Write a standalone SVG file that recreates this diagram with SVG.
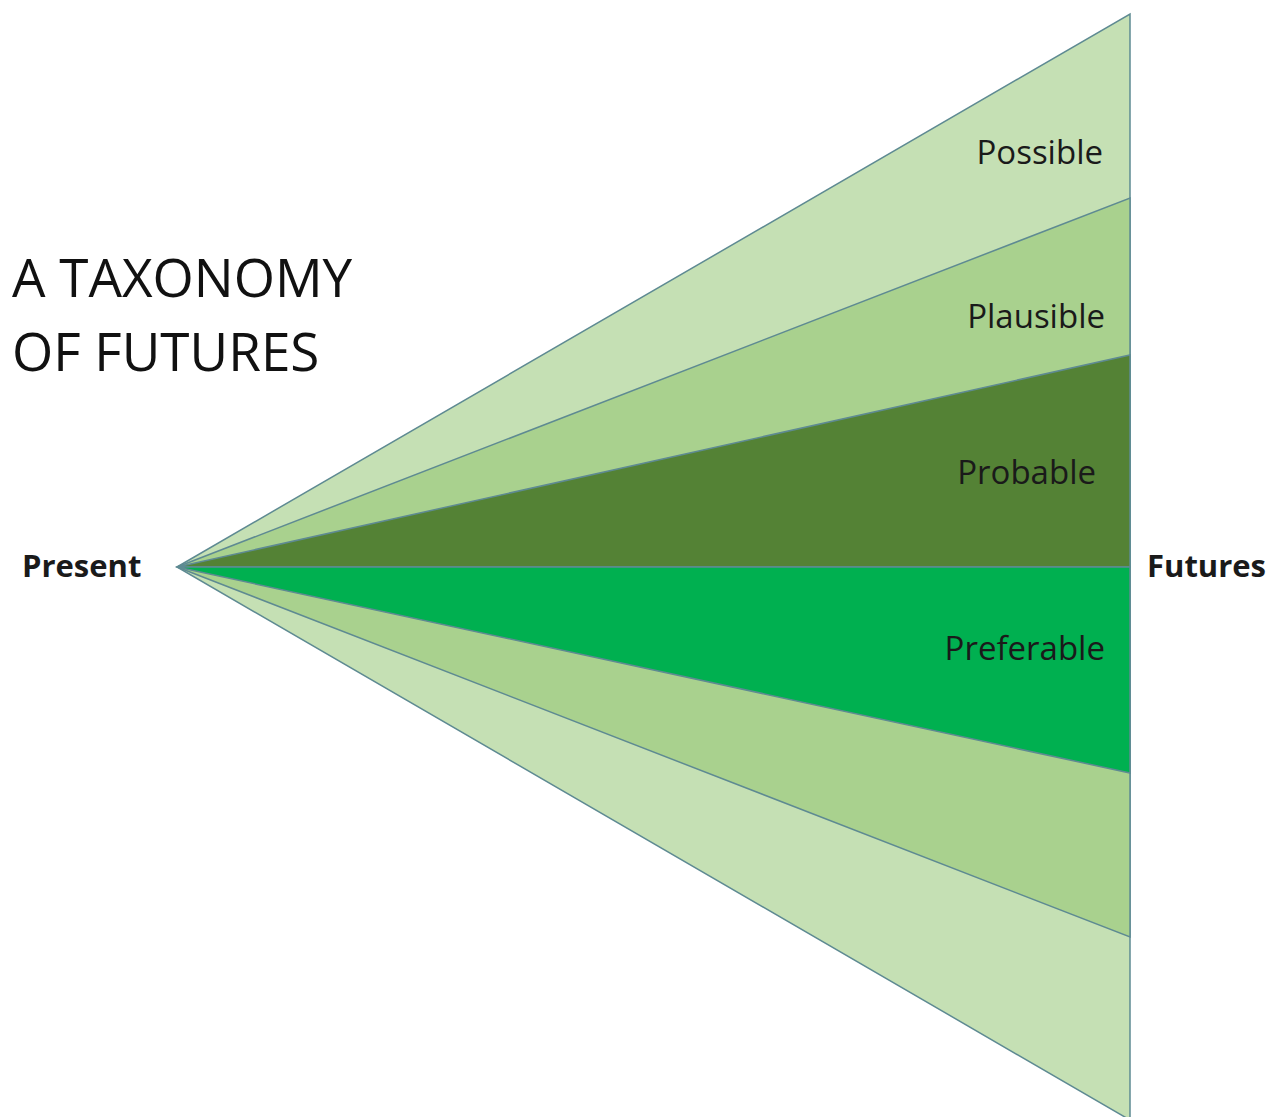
<svg xmlns="http://www.w3.org/2000/svg" width="1274" height="1117" viewBox="0 0 1274 1117">
<style>
.band{stroke:#5e8a92;stroke-width:1.5;stroke-linejoin:miter}
.lbl{font-family:"Open Sans","Liberation Sans",sans-serif;font-size:33px;fill:#1a1a1a;text-anchor:end}
.title{font-family:"Open Sans","Liberation Sans",sans-serif;font-size:53px;fill:#111}
.axis{font-family:"Open Sans","Liberation Sans",sans-serif;font-size:31px;font-weight:bold;fill:#1a1a1a}
</style>
<rect width="1274" height="1117" fill="#ffffff"/>
<g id="possible">
<polygon class="band" fill="#c5e0b4" points="177,567 1130,14 1130,1120"/>
<text class="lbl" x="1103" y="164">Possible</text>
</g>
<g id="plausible">
<polygon class="band" fill="#a9d18e" points="177,567 1130,198 1130,937"/>
<text class="lbl" x="1105" y="328">Plausible</text>
</g>
<g id="probable">
<polygon class="band" fill="#548235" points="177,567 1130,355 1130,567"/>
<text class="lbl" x="1096" y="484">Probable</text>
</g>
<g id="preferable">
<polygon class="band" fill="#00b050" points="177,567 1130,567 1130,773"/>
<text class="lbl" x="1105" y="660">Preferable</text>
</g>
<g id="title">
<text class="title" x="12" y="297">A TAXONOMY</text>
<text class="title" x="12" y="371">OF FUTURES</text>
</g>
<g id="present"><text class="axis" x="22" y="577">Present</text></g>
<g id="futures"><text class="axis" x="1147" y="577">Futures</text></g>
<g id="connectors"></g>
</svg>
